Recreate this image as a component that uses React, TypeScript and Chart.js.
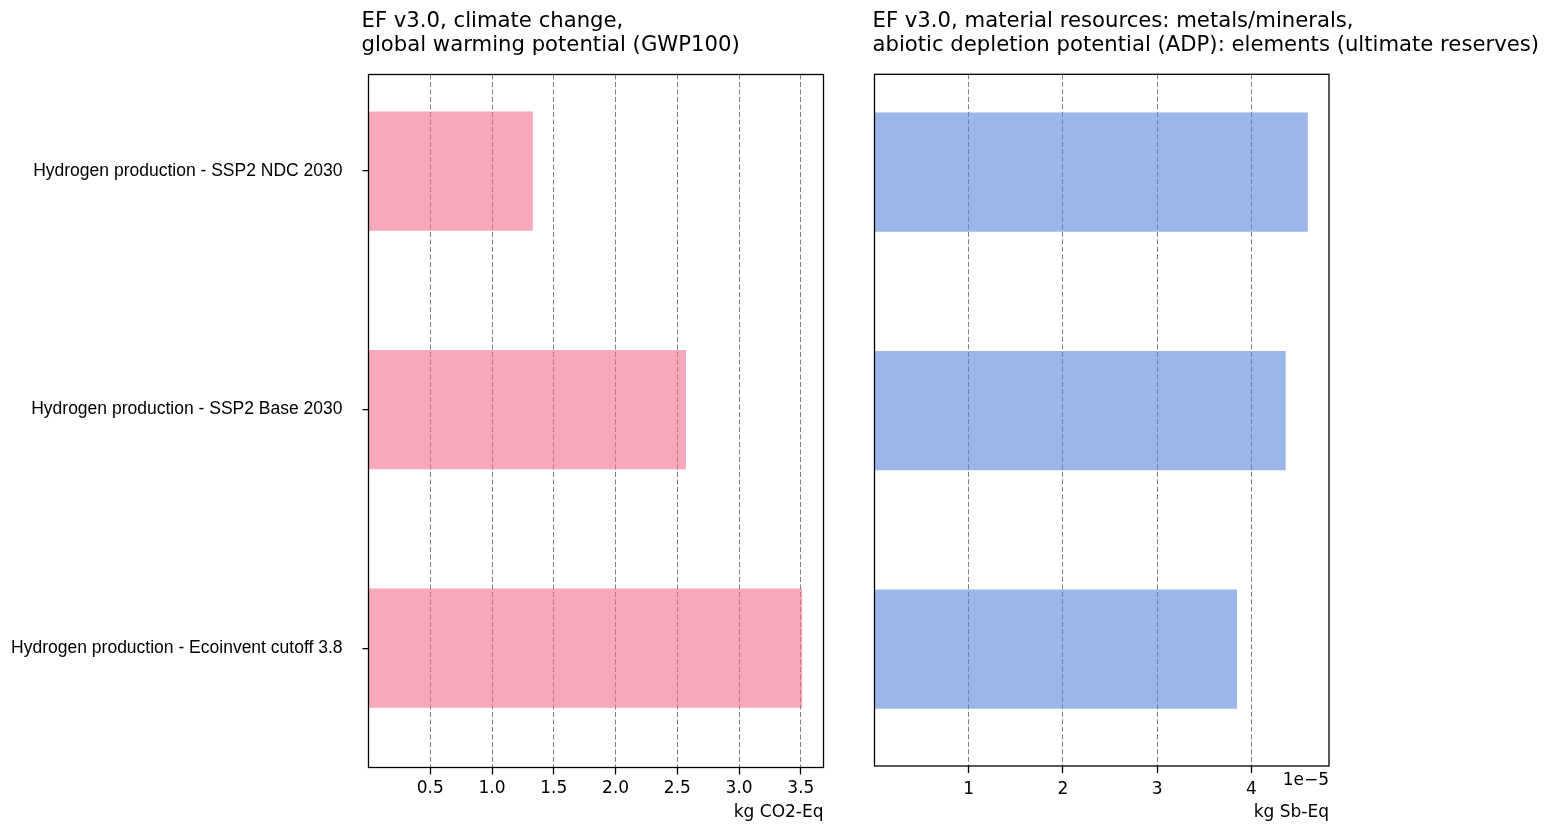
import React, { useEffect, useRef } from 'react';
import { Chart, registerables } from 'chart.js';

Chart.register(...registerables);

// ---- data ----
const CATEGORIES = [
  'Hydrogen production - SSP2 NDC 2030',
  'Hydrogen production - SSP2 Base 2030',
  'Hydrogen production - Ecoinvent cutoff 3.8',
];
const GWP_VALUES = [1.33, 2.57, 3.51];
const ADP_VALUES = [4.6e-5, 4.365e-5, 3.848e-5];
const GWP_TICKS = [0.5, 1.0, 1.5, 2.0, 2.5, 3.0, 3.5];
const ADP_TICKS = [1e-5, 2e-5, 3e-5, 4e-5];
const CATEGORY_TICKS = [0, 1, 2];
const GWP_TITLE = ['EF v3.0, climate change,', 'global warming potential (GWP100)'];
const ADP_TITLE = [
  'EF v3.0, material resources: metals/minerals,',
  'abiotic depletion potential (ADP): elements (ultimate reserves)',
];
const GWP_UNIT = 'kg CO2-Eq';
const ADP_UNIT = 'kg Sb-Eq';
const ADP_OFFSET_TEXT = '1e\u22125';
const ADP_SCALE = 1e-5;

const DEJAVU = '"DejaVu Sans", sans-serif';
const ARIAL = '"Liberation Sans", Arial, sans-serif';

const decorPlugin = {
  id: 'decor',
  afterDraw(chart: any, _args: any, opts: any) {
    const { ctx, chartArea: a } = chart;
    ctx.save();
    ctx.strokeStyle = '#000';
    ctx.lineWidth = 1.3;
    ctx.strokeRect(a.left, a.top, a.right - a.left, a.bottom - a.top);
    ctx.fillStyle = '#000';
    ctx.font = '21.2px ' + DEJAVU;
    ctx.textAlign = 'left';
    ctx.textBaseline = 'alphabetic';
    (opts.title || []).forEach((line: string, i: number) => {
      ctx.fillText(line, a.left + opts.titleDx, opts.titleBaselines[i]);
    });
    if (opts.offsetText) {
      ctx.font = '17px ' + DEJAVU;
      ctx.textAlign = 'right';
      ctx.fillText(opts.offsetText, a.right, opts.offsetBaseline);
    }
    ctx.restore();
  },
};

function makeConfig(p: {
  values: number[];
  color: string;
  xMax: number;
  xTicks: number[];
  tickFmt: (v: number) => string;
  unit: string;
  showY: boolean;
  padding: any;
  yWidth: number;
  xHeight: number;
  yMin: number;
  yMax: number;
  title: string[];
  titleDx: number;
  offsetText?: string;
  tickPad: number;
}) {
  return {
    type: 'bar' as const,
    data: {
      datasets: [
        {
          data: p.values.map((v, i) => ({ x: v, y: i })),
          backgroundColor: p.color,
          borderWidth: 0,
          barPercentage: 0.5,
          categoryPercentage: 1.0,
        },
      ],
    },
    options: {
      indexAxis: 'y' as const,
      responsive: false,
      animation: false as const,
      events: [] as any[],
      layout: { padding: p.padding },
      plugins: {
        legend: { display: false },
        tooltip: { enabled: false },
        title: { display: false },
        decor: {
          title: p.title,
          titleDx: p.titleDx,
          titleBaselines: [26.7, 51],
          offsetText: p.offsetText,
          offsetBaseline: 785,
        },
      },
      scales: {
        x: {
          type: 'linear' as const,
          position: 'bottom' as const,
          min: 0,
          max: p.xMax,
          offset: false,
          afterBuildTicks: (scale: any) => {
            scale.ticks = p.xTicks.map((v) => ({ value: v }));
          },
          afterFit: (scale: any) => {
            scale.height = p.xHeight;
          },
          border: { display: false, dash: [5, 2.5] },
          grid: {
            offset: false,
            color: '#7f7f7f',
            lineWidth: 1,
            drawTicks: true,
            tickLength: 7,
            tickColor: '#000',
            tickWidth: 1.3,
            tickBorderDash: [],
          },
          ticks: {
            color: '#000',
            font: { family: DEJAVU, size: 17 },
            padding: p.tickPad,
            maxRotation: 0,
            autoSkip: false,
            callback: (v: any) => p.tickFmt(Number(v)),
          },
          title: {
            display: true,
            text: p.unit,
            align: 'end' as const,
            color: '#000',
            font: { family: DEJAVU, size: 17 },
            padding: 1,
          },
        },
        y: {
          type: 'linear' as const,
          display: p.showY,
          reverse: true,
          offset: false,
          min: p.yMin,
          max: p.yMax,
          afterBuildTicks: (scale: any) => {
            scale.ticks = CATEGORY_TICKS.map((v) => ({ value: v }));
          },
          afterFit: (scale: any) => {
            scale.width = p.yWidth;
          },
          border: { display: false },
          grid: {
            offset: false,
            drawOnChartArea: false,
            drawTicks: true,
            tickLength: 6,
            color: '#000',
            lineWidth: 1.3,
          },
          ticks: {
            color: '#000',
            font: { family: ARIAL, size: 17.5 },
            padding: 20,
            autoSkip: false,
            callback: (v: any) => CATEGORIES[Number(v)] ?? '',
          },
        },
      },
    },
    plugins: [decorPlugin],
  };
}

export default function App() {
  const leftRef = useRef<HTMLCanvasElement>(null);
  const rightRef = useRef<HTMLCanvasElement>(null);

  useEffect(() => {
    const left = new Chart(
      leftRef.current as HTMLCanvasElement,
      makeConfig({
        values: GWP_VALUES,
        color: 'rgba(243,110,142,0.6)',
        xMax: 3.683,
        xTicks: GWP_TICKS,
        tickFmt: (v) => v.toFixed(1),
        unit: GWP_UNIT,
        showY: true,
        padding: { left: 0, right: 26.5, top: 74.5, bottom: 0 },
        yWidth: 368.5,
        xHeight: 56.5,
        yMin: -0.405,
        yMax: 2.5,
        title: GWP_TITLE,
        titleDx: -7,
        tickPad: 4,
      }) as any
    );
    const right = new Chart(
      rightRef.current as HTMLCanvasElement,
      makeConfig({
        values: ADP_VALUES,
        color: 'rgba(92,133,218,0.6)',
        xMax: 4.825e-5,
        xTicks: ADP_TICKS,
        tickFmt: (v) => String(Math.round(v / ADP_SCALE)),
        unit: ADP_UNIT,
        showY: false,
        padding: { left: 24.5, right: 219, top: 74.3, bottom: 0 },
        yWidth: 0,
        xHeight: 58,
        yMin: -0.41,
        yMax: 2.49,
        title: ADP_TITLE,
        titleDx: -2,
        offsetText: ADP_OFFSET_TEXT,
        tickPad: 6,
      }) as any
    );
    return () => {
      left.destroy();
      right.destroy();
    };
  }, []);

  return (
    <div style={{ position: 'fixed', left: 0, top: 0, width: 1548, height: 824, background: '#fff' }}>
      <canvas
        ref={leftRef}
        width={850}
        height={824}
        style={{ position: 'absolute', left: 0, top: 0, display: 'block' }}
      />
      <canvas
        ref={rightRef}
        width={698}
        height={824}
        style={{ position: 'absolute', left: 850, top: 0, display: 'block' }}
      />
    </div>
  );
}
